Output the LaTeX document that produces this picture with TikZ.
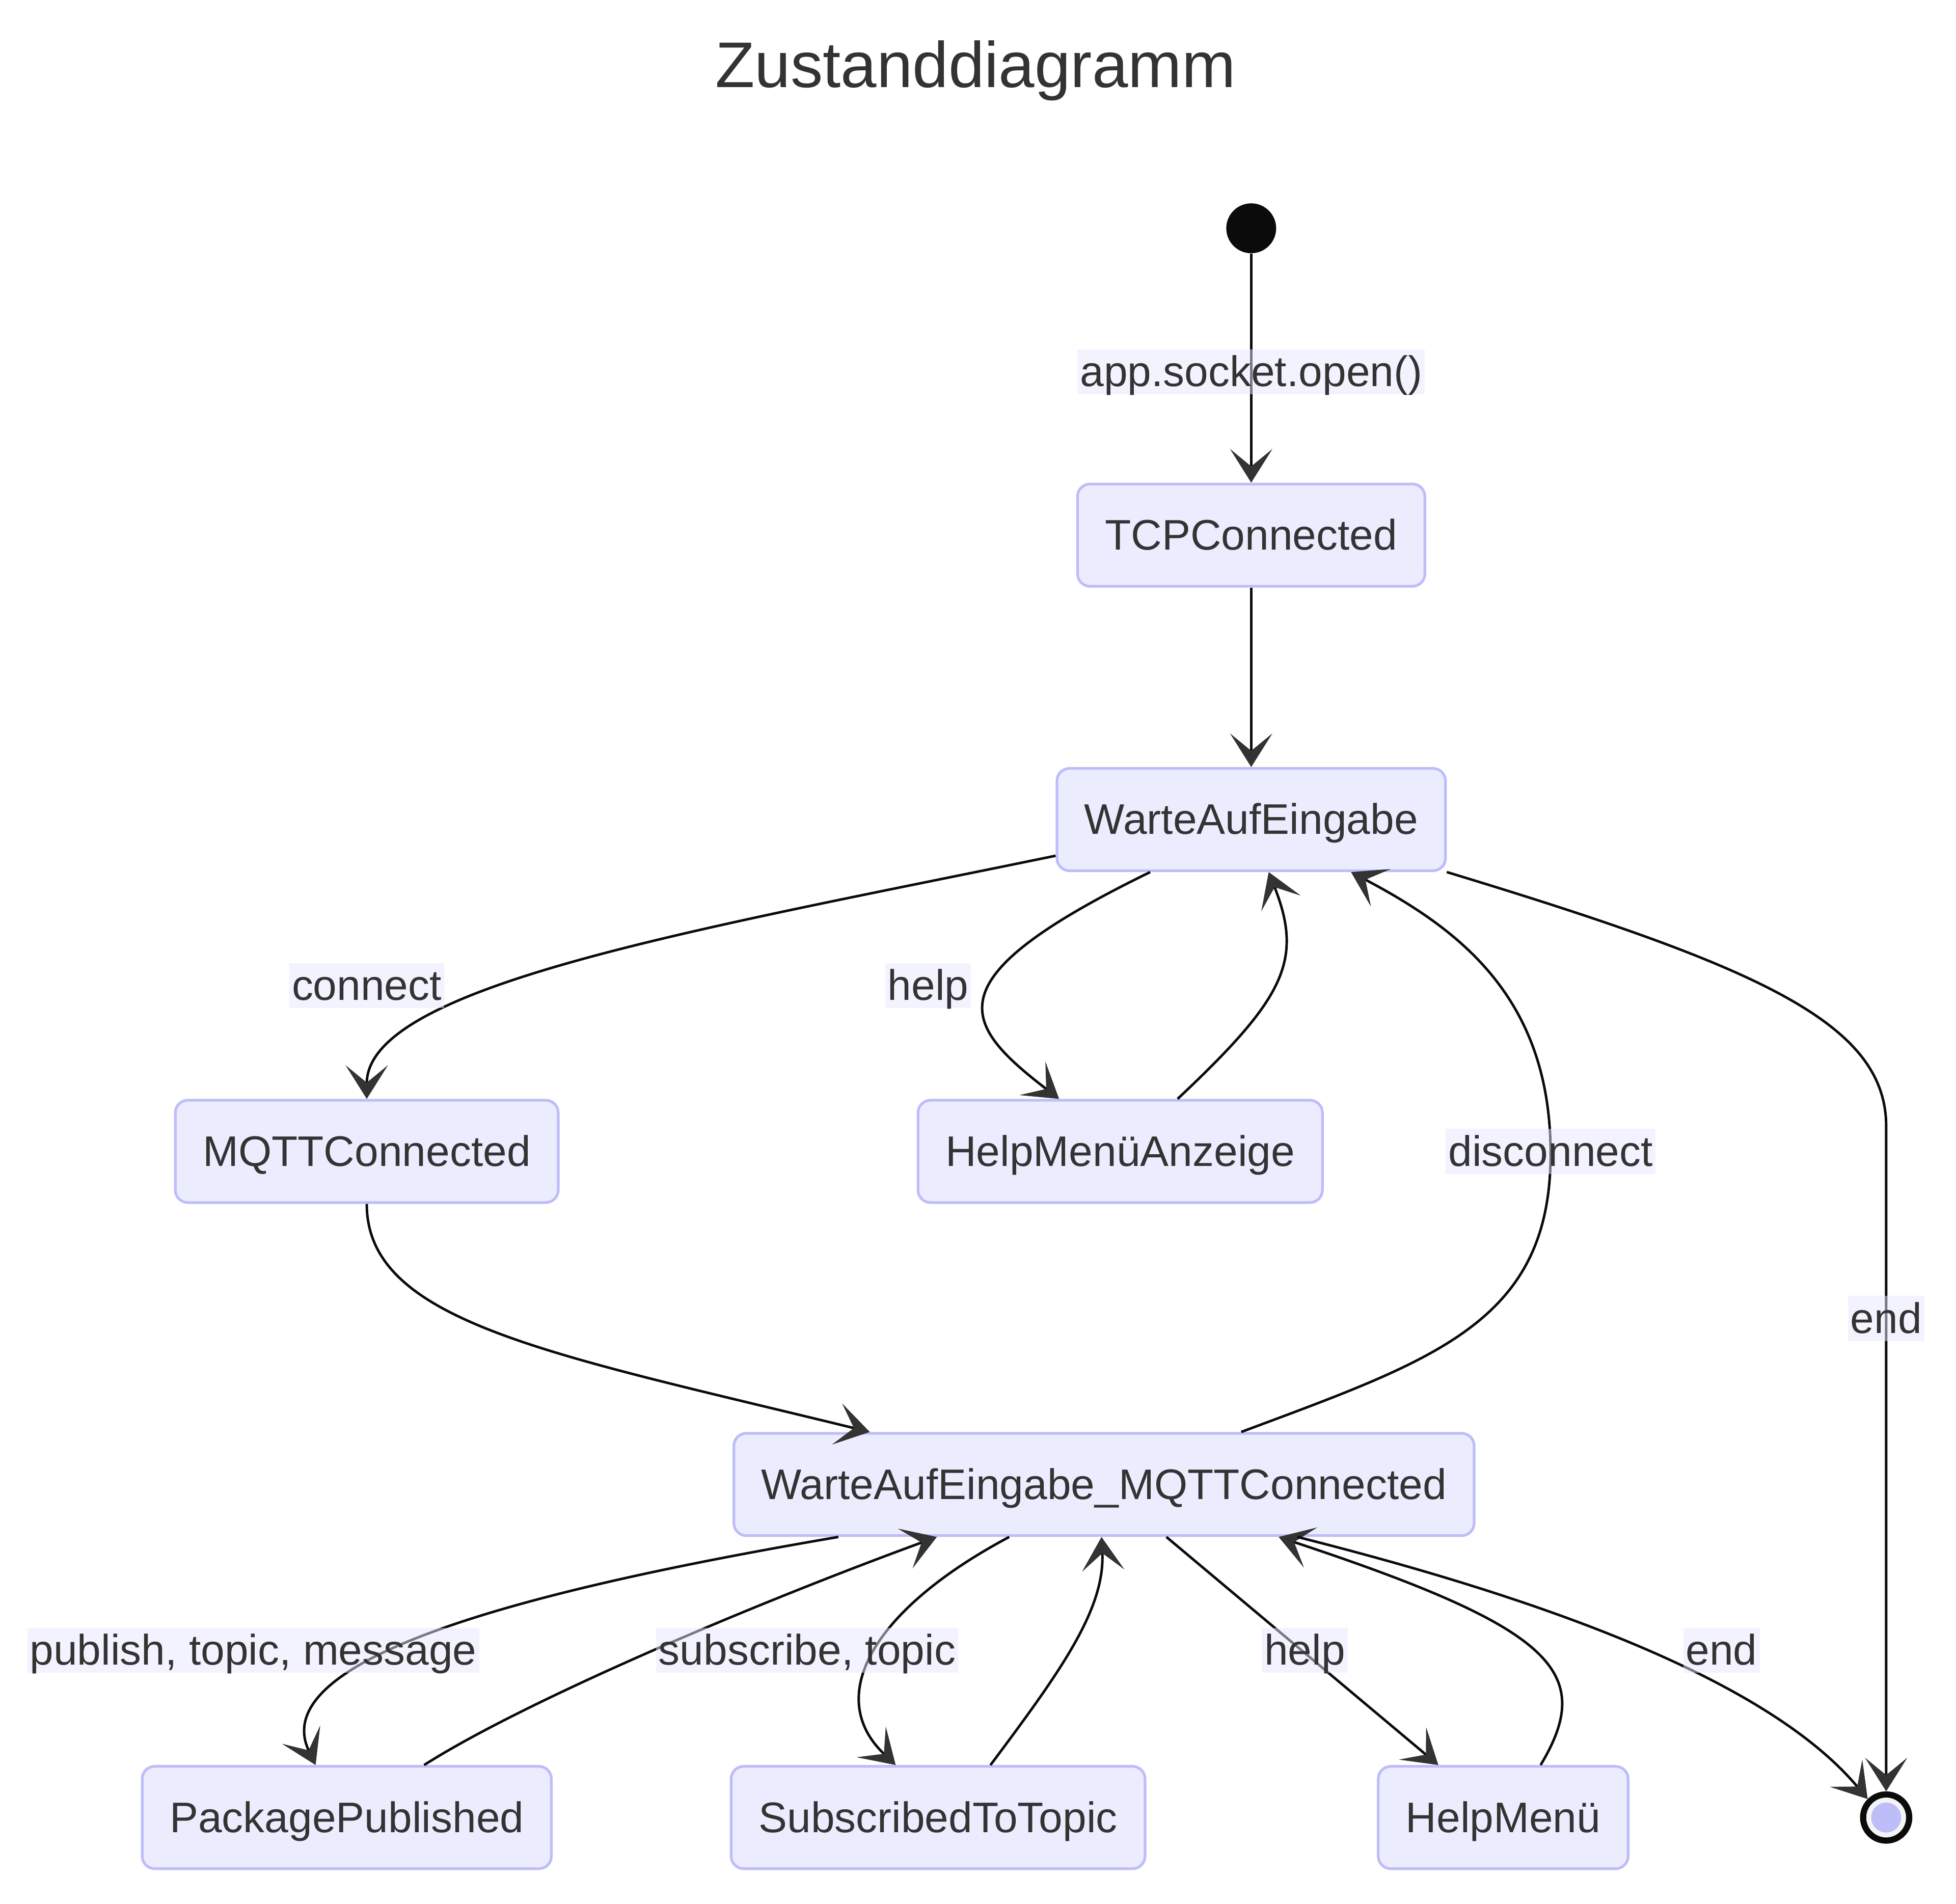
\documentclass[tikz,border=0pt]{standalone}
\usepackage{fontspec}
\setmainfont{Liberation Sans}
\usetikzlibrary{arrows.meta,calc,shapes}
\definecolor{penColor}{HTML}{0B0B0B}
\definecolor{tipColor}{HTML}{333333}
\definecolor{textColor}{HTML}{333333}
\definecolor{fill1}{HTML}{ECECFF}
\definecolor{border1}{RGB}{189,189,249}
\definecolor{labelFill}{HTML}{E8E8FF}
\definecolor{finGray}{HTML}{F4F4F4}
\tikzset{>={Stealth[length=0.66cm,width=0.83cm,inset=0.34cm,color=tipColor]}}
\tikzset{
  txt/.style={text=textColor, font=\fontsize{23.9pt}{28pt}\selectfont},
  stateBox/.style={txt, draw=border1, fill=fill1, line width=1.5pt,
    text height=21.6pt, text depth=5.1pt,
    rounded corners=0.245cm, minimum height=2.01cm, inner xsep=0.54cm, inner ysep=0pt},
  trans/.style={->, draw=penColor, line width=1.4pt},
  edgeLabel/.style={txt, fill=labelFill, fill opacity=0.5, text opacity=1,
    text height=20.8pt, text depth=4.35pt, inner xsep=0.05cm, inner ysep=0pt}
}
\begin{document}
\begin{tikzpicture}[x=0.0245cm, y=-0.0245cm]
  \useasboundingbox (0,0) rectangle (1568,1526);
  % title
  \node[text=textColor, font=\fontsize{36.1pt}{42pt}\selectfont, text height=32.7pt,
    text depth=7.65pt, inner sep=0pt] (title) at (782,52) {Zustanddiagramm};
  % states
  \node[circle, fill=penColor, minimum size=0.98cm, inner sep=0pt] (init) at (1003,183) {};
  \node[stateBox] (tcp) at (1003,429) {TCPConnected};
  \node[stateBox] (wae) at (1003,657) {WarteAufEingabe};
  \node[stateBox] (mqtt) at (294,923) {MQTTConnected};
  \node[stateBox] (hma) at (898,923) {HelpMenüAnzeige};
  \node[stateBox] (waem) at (885,1190) {WarteAufEingabe\_MQTTConnected};
  \node[stateBox] (pkg) at (278,1457) {PackagePublished};
  \node[stateBox] (sub) at (752,1457) {SubscribedToTopic};
  \node[stateBox] (hm) at (1205,1457) {HelpMenü};
  \node[circle, draw=penColor, line width=3.47pt, fill=finGray, minimum size=0.906cm,
    inner sep=0pt] (fin) at (1512,1457) {};
  \fill[border1] (fin.center) circle[radius=0.294cm];
  % transitions
  \draw[trans] (init) -- (tcp);
  \draw[trans] (tcp) -- (wae);
  \draw[trans] ($(wae.west)+(0,29)$) .. controls (560,745) and (294,790) .. (mqtt.north);
  \draw[trans] ($(wae.south)+(-81,0)$) .. controls (746,785) and (770,820) .. ($(hma.north)+(-49,0)$);
  \draw[trans] ($(hma.north)+(46,0)$) .. controls (1030,800) and (1045,770) .. ($(wae.south)+(14,0)$);
  \draw[trans] (wae.south east) .. controls (1410,775) and (1512,820) .. (1512,903) -- (fin.north);
  \draw[trans] (mqtt.south) .. controls (294,1060) and (440,1085) .. ($(waem.north west)+(110,0)$);
  \draw[trans] ($(waem.north)+(110,0)$) .. controls (1150,1090) and (1243,1060) .. (1243,925)
    .. controls (1243,800) and (1170,745) .. ($(wae.south)+(80,0)$);
  \draw[trans] ($(waem.south)+(-213,0)$) .. controls (450,1270) and (210,1325) .. ($(pkg.north)+(-25,0)$);
  \draw[trans] ($(pkg.north)+(62,0)$) .. controls (420,1364) and (601,1287) .. ($(waem.south)+(-134,0)$);
  \draw[trans] ($(waem.south)+(-76,0)$) .. controls (700,1290) and (660,1360) .. ($(sub.north)+(-34,0)$);
  \draw[trans] ($(sub.north)+(42,0)$) .. controls (850,1340) and (886,1290) .. ($(waem.south)+(-2,0)$);
  \draw[trans] ($(waem.south)+(50,0)$) -- ($(hm.north)+(-52,0)$);
  \draw[trans] ($(hm.north)+(30,0)$) .. controls (1280,1340) and (1245,1305) .. ($(waem.south)+(140,0)$);
  \draw[trans] ($(waem.south)+(155,0)$) .. controls (1250,1285) and (1420,1350) .. (fin.north west);
  % labels
  \node[edgeLabel] (lblOpen) at (1003,298) {app.socket.open()};
  \node[edgeLabel] (lblConnect) at (294,790) {connect};
  \node[edgeLabel] (lblHelpA) at (744,790) {help};
  \node[edgeLabel] (lblEndA) at (1512,1057) {end};
  \node[edgeLabel] (lblDisc) at (1243,923) {disconnect};
  \node[edgeLabel] (lblPub) at (203,1323) {publish, topic, message};
  \node[edgeLabel] (lblSub) at (647,1323) {subscribe, topic};
  \node[edgeLabel] (lblHelpB) at (1046,1323) {help};
  \node[edgeLabel] (lblEndB) at (1380,1323) {end};
\end{tikzpicture}
\end{document}
